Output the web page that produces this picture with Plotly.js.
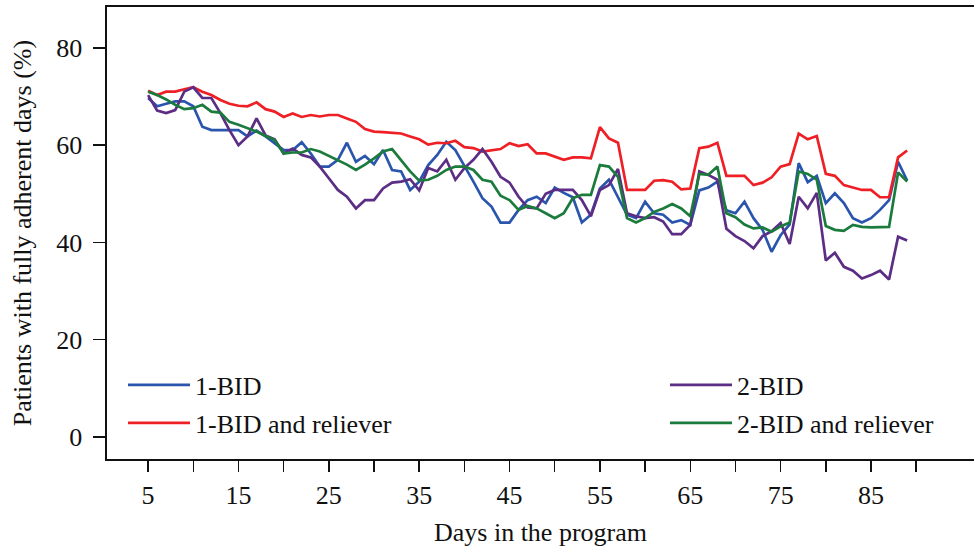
<!DOCTYPE html>
<html>
<head>
<meta charset="utf-8">
<script src="https://cdn.plot.ly/plotly-3.0.1.min.js"></script>
<style>html,body{margin:0;padding:0;background:#fff;}#chart{width:974px;height:551px;}</style>
</head>
<body>
<div id="chart"></div>
<script>
const days = [];
for (let d = 5; d <= 89; d++) days.push(d);

const bid1 = [69.7,68.0,68.5,69.0,69.0,68.0,63.8,63.1,63.1,63.1,63.1,61.8,63.0,61.8,60.4,59.0,59.0,60.6,58.3,55.6,
  55.6,57.0,60.5,56.6,57.8,56.1,59.0,54.9,54.6,50.8,52.5,55.9,58.0,60.7,59.0,55.9,52.5,49.1,47.4,44.1,
  44.1,46.7,48.7,49.4,48.1,51.3,50.2,49.3,44.1,45.7,51.1,52.9,49.4,45.7,45.0,48.4,46.0,45.7,44.1,44.6,
  43.6,50.7,51.3,52.5,46.6,46.0,48.4,45.0,42.6,38.1,41.5,43.7,56.3,52.4,53.7,48.1,50.1,48.1,45.0,44.1,
  45.0,46.7,48.7,56.6,52.7];

const bid1Rel = [71.2,70.3,71.0,71.0,71.5,71.9,71.0,70.3,69.3,68.5,68.1,68.0,68.8,67.4,66.9,65.8,66.5,65.8,66.2,65.9,
  66.2,66.2,65.5,64.8,63.3,62.8,62.7,62.6,62.4,61.8,61.2,60.1,60.5,60.4,60.9,59.6,59.4,58.7,58.9,59.2,
  60.4,59.8,60.2,58.3,58.3,57.7,57.0,57.5,57.5,57.3,63.7,61.4,60.5,50.8,50.8,50.8,52.7,52.8,52.5,50.9,
  51.1,59.4,59.7,60.5,53.7,53.7,53.7,51.8,52.3,53.4,55.6,56.1,62.4,61.2,61.9,54.1,53.7,51.8,51.3,50.8,
  50.8,49.3,49.3,57.5,58.9];

const bid2 = [70.3,67.1,66.6,67.2,71.0,71.9,69.7,69.7,66.6,63.1,60.0,61.8,65.5,62.0,61.2,58.3,59.3,58.0,57.5,55.6,
  53.2,50.8,49.4,47.0,48.7,48.7,51.1,52.3,52.5,53.0,50.7,55.3,54.6,57.0,52.9,55.3,57.0,59.2,56.6,53.5,
  52.3,49.4,47.2,47.0,50.0,50.8,50.8,50.8,48.7,45.4,50.8,51.8,55.1,46.0,45.4,45.0,45.2,44.3,41.7,41.7,
  43.6,54.6,53.9,52.9,42.8,41.3,40.3,38.8,41.3,42.3,44.0,39.7,49.4,47.0,50.2,36.3,37.9,35.0,34.2,32.6,
  33.3,34.2,32.4,41.2,40.4];

const bid2Rel = [71.0,70.3,69.4,68.3,67.4,67.6,68.3,66.9,66.7,64.8,64.2,63.5,62.8,61.9,61.1,58.3,58.5,58.5,59.2,58.7,
  57.8,57.0,56.0,54.9,56.0,57.3,58.7,59.2,57.0,54.6,52.7,52.9,53.7,54.9,55.6,55.6,54.9,52.9,52.5,49.6,
  48.7,46.7,47.5,47.0,46.0,45.0,46.0,49.1,49.8,49.8,55.9,55.6,53.5,45.0,44.1,45.0,46.3,47.0,47.9,47.0,
  45.4,54.1,53.9,55.6,46.0,45.2,43.7,42.9,43.1,42.2,43.3,44.1,54.6,54.1,52.9,43.4,42.6,42.4,43.6,43.2,
  43.1,43.1,43.2,54.4,52.5];

const seriesNames = ["1-BID", "1-BID and reliever", "2-BID", "2-BID and reliever"];
const seriesColors = ["#2a55ad", "#ee2026", "#5c2d85", "#1b7b3c"];
const xTickVals = [5,10,15,20,25,30,35,40,45,50,55,60,65,70,75,80,85,90];
const xTickText = ["5","","15","","25","","35","","45","","55","","65","","75","","85",""];
const yTickVals = [0,20,40,60,80];

const FONT = "'Liberation Serif', 'Times New Roman', serif";
const FS = 26;
const dataSets = [bid1, bid1Rel, bid2, bid2Rel];
const legendIds = ["legend", "legend2", "legend3", "legend4"];

const traces = dataSets.map((ys, i) => ({
  x: days, y: ys, type: "scatter", mode: "lines",
  name: seriesNames[i],
  line: {color: seriesColors[i], width: 2.7},
  legend: legendIds[i]
}));

const plotL = 107, plotR = 974, plotT = 7, plotB = 459;
const W = 974, H = 551;
function px2x(px) { return (px - plotL) / (plotR - plotL); }
function py2y(py) { return (plotB - py) / (plotB - plotT); }

function legendAt(lineStartPx, rowPy) {
  return {
    x: px2x(lineStartPx - 5), y: py2y(rowPy), xanchor: "left", yanchor: "middle",
    bgcolor: "rgba(0,0,0,0)", borderwidth: 0, itemwidth: 62,
    font: {family: FONT, size: FS, color: "#111"}
  };
}

const layout = {
  width: W, height: H,
  margin: {l: plotL, r: W - plotR, t: plotT, b: H - plotB, pad: 0},
  paper_bgcolor: "#fff", plot_bgcolor: "#fff",
  font: {family: FONT, size: FS, color: "#111"},
  xaxis: {
    range: [0.45, 96.4], showgrid: false, zeroline: false,
    showline: true, linecolor: "#111", linewidth: 1.6, mirror: true,
    ticks: "outside", ticklen: 11, tickwidth: 1.4, tickcolor: "#111",
    tickmode: "array", tickvals: xTickVals, ticktext: xTickText,
    ticklabelstandoff: 1,
    tickfont: {family: FONT, size: FS, color: "#111"},
    title: {text: "Days in the program", font: {family: FONT, size: FS, color: "#111"}, standoff: 14}
  },
  yaxis: {
    range: [-4.5, 88.4], showgrid: false, zeroline: false,
    showline: true, linecolor: "#111", linewidth: 1.6, mirror: false,
    ticks: "outside", ticklen: 12, tickwidth: 1.4, tickcolor: "#111",
    tickmode: "array", tickvals: yTickVals,
    ticklabelstandoff: 6,
    tickfont: {family: FONT, size: FS, color: "#111"},
    title: {text: "Patients with fully adherent days (%)", font: {family: FONT, size: FS, color: "#111"}, standoff: 17}
  },
  legend: legendAt(128, 385),
  legend2: legendAt(128, 423),
  legend3: legendAt(670, 385),
  legend4: legendAt(670, 423),
  showlegend: true
};

Plotly.newPlot("chart", traces, layout, {displayModeBar: false, staticPlot: true});
</script>
</body>
</html>
